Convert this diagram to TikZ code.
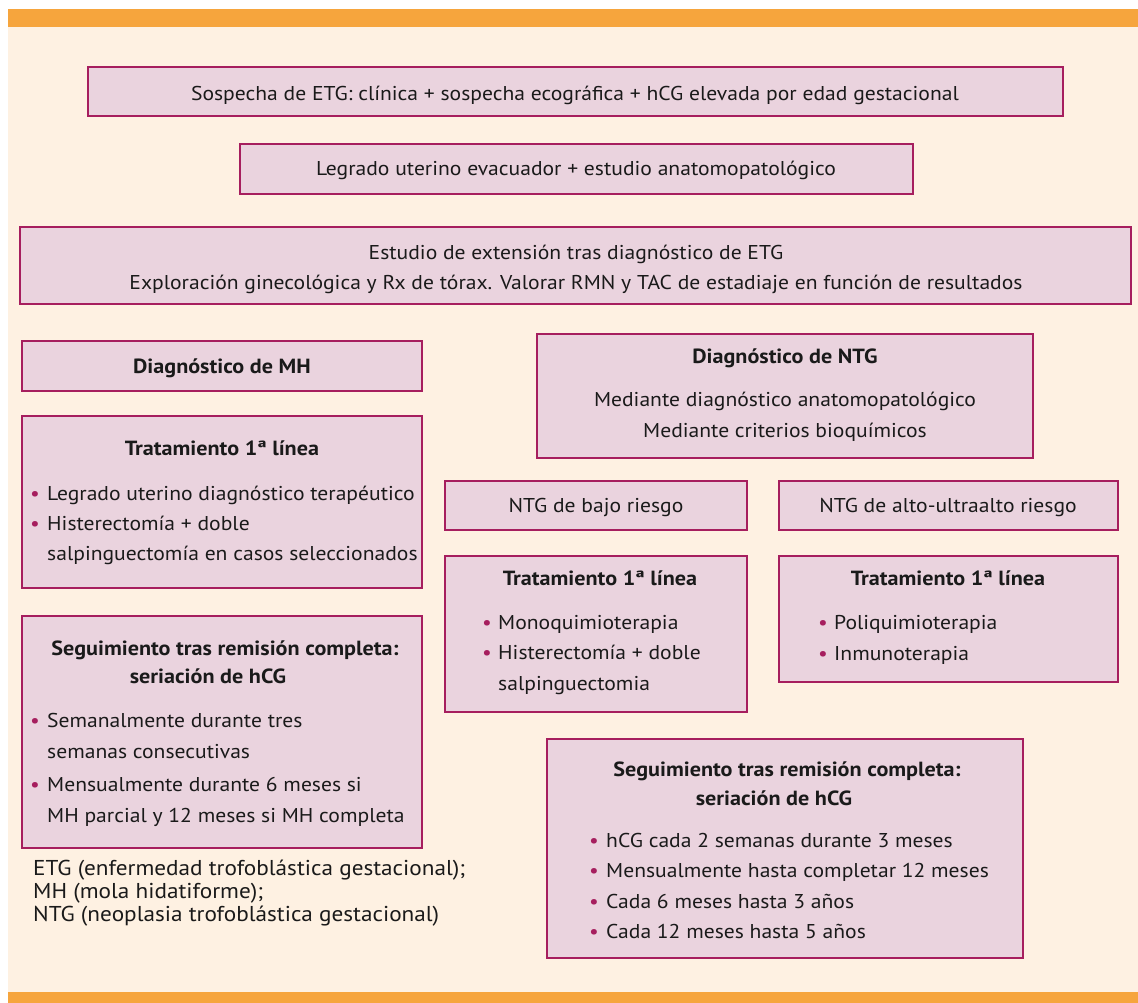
\documentclass[tikz,border=0pt]{standalone}
\usepackage{fontspec}
\setmainfont{PT Sans}[FakeStretch=1.08]
\definecolor{brd}{HTML}{A61E5E}
\definecolor{boxfill}{HTML}{EAD3DE}
\definecolor{cream}{HTML}{FEF1E2}
\definecolor{orng}{HTML}{F6A53D}
\definecolor{ink}{HTML}{1A1A1A}
\begin{document}
\begin{tikzpicture}[x=1pt,y=-1pt,
  bx/.style={draw=brd, fill=boxfill, line width=2.6pt, inner sep=0pt},
  tx/.style={font=\fontsize{20}{24}\selectfont, text=ink, inner sep=0pt, anchor=base},
  txb/.style={tx, font=\fontsize{20.5}{24}\selectfont\bfseries},
  itm/.style={tx, anchor=base west},
  blt/.style={tx, anchor=base, text=brd},
  lg/.style={font=\fontsize{21.5}{23}\selectfont, text=ink, inner sep=0pt, anchor=base west}]
\useasboundingbox (0,0) rectangle (1138,1003);
\fill[white] (0,0) rectangle (1138,1003);
\fill[cream] (8,27) rectangle (1138,992);
\fill[orng] (8,9) rectangle (1138,27);
\fill[orng] (8,992) rectangle (1138,1003);
% boxes
\node[bx, minimum width=975, minimum height=49] (sosp) at (575.5,91.5) {};
\node[bx, minimum width=673, minimum height=50] (leg) at (576.5,169) {};
\node[bx, minimum width=1111, minimum height=77] (est) at (575.5,265.5) {};
\node[bx, minimum width=400, minimum height=50] (dxmh) at (222,366) {};
\node[bx, minimum width=496, minimum height=124] (dxntg) at (785,396) {};
\node[bx, minimum width=400, minimum height=172] (trmh) at (222,502) {};
\node[bx, minimum width=302, minimum height=49] (bajo) at (596,505.5) {};
\node[bx, minimum width=339, minimum height=49] (alto) at (948.5,505.5) {};
\node[bx, minimum width=302, minimum height=156] (trbajo) at (596,634) {};
\node[bx, minimum width=339, minimum height=126] (tralto) at (948.5,619) {};
\node[bx, minimum width=400, minimum height=232] (segmh) at (222,732) {};
\node[bx, minimum width=476, minimum height=219] (segntg) at (785,848.5) {};
% texts
\node[tx] (t1) at (575,101) {Sospecha de ETG: clínica + sospecha ecográfica + hCG elevada por edad gestacional};
\node[tx] (t2) at (576,176) {Legrado uterino evacuador + estudio anatomopatológico};
\node[tx] (t3a) at (576,259) {Estudio de extensión tras diagnóstico de ETG};
\node[tx] (t3b) at (576,289) {Exploración ginecológica y Rx de tórax. Valorar RMN y TAC de estadiaje en función de resultados};
\node[txb] (t4) at (222,373) {Diagnóstico de MH};
\node[txb] (t5a) at (785,363) {Diagnóstico de NTG};
\node[tx] (t5b) at (785,406) {Mediante diagnóstico anatomopatológico};
\node[tx] (t5c) at (785,437) {Mediante criterios bioquímicos};
% tratamiento MH
\node[txb] (t6) at (222,455) {Tratamiento 1ª línea};
\node[blt] (b61) at (35,500) {\textbullet};
\node[itm] (i61) at (47,500) {Legrado uterino diagnóstico terapéutico};
\node[blt] (b62) at (35,530) {\textbullet};
\node[itm] (i62) at (47,530) {Histerectomía + doble};
\node[itm] (i63) at (47,560) {salpinguectomía en casos seleccionados};
% riesgo
\node[tx] (t7) at (596,512) {NTG de bajo riesgo};
\node[tx] (t8) at (948,512) {NTG de alto-ultraalto riesgo};
% tratamiento bajo
\node[txb] (t9) at (600,585) {Tratamiento 1ª línea};
\node[blt] (b91) at (487,629) {\textbullet};
\node[itm] (i91) at (498,629) {Monoquimioterapia};
\node[blt] (b92) at (487,659) {\textbullet};
\node[itm] (i92) at (498,659) {Histerectomía + doble};
\node[itm] (i93) at (498,690) {salpinguectomia};
% tratamiento alto
\node[txb] (t10) at (948,585) {Tratamiento 1ª línea};
\node[blt] (b101) at (823,629) {\textbullet};
\node[itm] (i101) at (834,629) {Poliquimioterapia};
\node[blt] (b102) at (823,660) {\textbullet};
\node[itm] (i102) at (834,660) {Inmunoterapia};
% seguimiento MH
\node[txb] (t11a) at (225,655) {Seguimiento tras remisión completa:};
\node[txb] (t11b) at (208,683) {seriación de hCG};
\node[blt] (b111) at (35,727) {\textbullet};
\node[itm] (i111) at (47,727) {Semanalmente durante tres};
\node[itm] (i112) at (47,758) {semanas consecutivas};
\node[blt] (b113) at (35,791) {\textbullet};
\node[itm] (i113) at (47,791) {Mensualmente durante 6 meses si};
\node[itm] (i114) at (47,822) {MH parcial y 12 meses si MH completa};
% seguimiento NTG
\node[txb] (t12a) at (787,776) {Seguimiento tras remisión completa:};
\node[txb] (t12b) at (774,805) {seriación de hCG};
\node[blt] (b121) at (594,847) {\textbullet};
\node[itm] (i121) at (606,847) {hCG cada 2 semanas durante 3 meses};
\node[blt] (b122) at (594,877) {\textbullet};
\node[itm] (i122) at (606,877) {Mensualmente hasta completar 12 meses};
\node[blt] (b123) at (594,908) {\textbullet};
\node[itm] (i123) at (606,908) {Cada 6 meses hasta 3 años};
\node[blt] (b124) at (594,938) {\textbullet};
\node[itm] (i124) at (606,938) {Cada 12 meses hasta 5 años};
% legend
\node[lg] (l1) at (33,875) {ETG (enfermedad trofoblástica gestacional);};
\node[lg] (l2) at (33,898) {MH (mola hidatiforme);};
\node[lg] (l3) at (33,921) {NTG (neoplasia trofoblástica gestacional)};
\end{tikzpicture}
\end{document}
